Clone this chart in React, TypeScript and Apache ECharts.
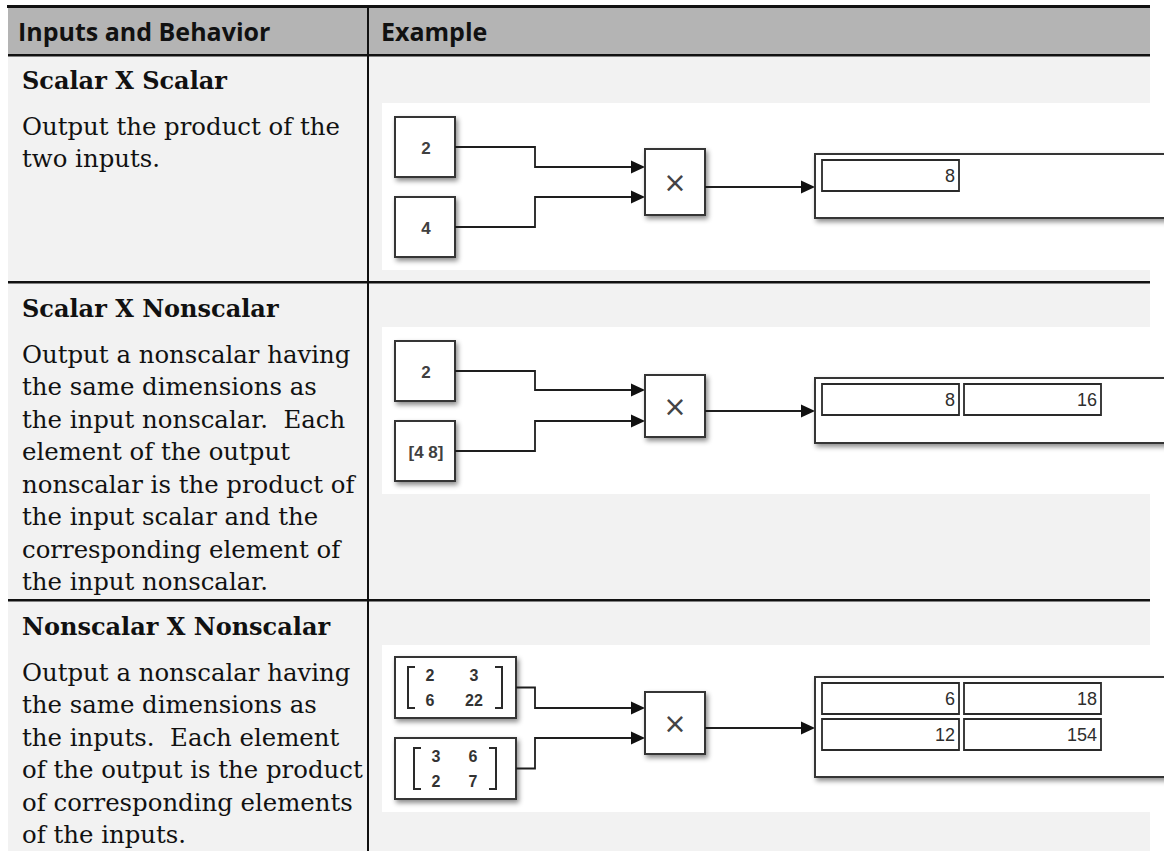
import React, { useEffect, useRef } from "react";
import * as echarts from "echarts";

const headerLabels = ["Inputs and Behavior", "Example"];
const rowTitles = ["Scalar X Scalar", "Scalar X Nonscalar", "Nonscalar X Nonscalar"];
const rowBodies = [
  ["Output the product of the", "two inputs."],
  [
    "Output a nonscalar having",
    "the same dimensions as",
    "the input nonscalar.  Each",
    "element of the output",
    "nonscalar is the product of",
    "the input scalar and the",
    "corresponding element of",
    "the input nonscalar.",
  ],
  [
    "Output a nonscalar having",
    "the same dimensions as",
    "the inputs.  Each element",
    "of the output is the product",
    "of corresponding elements",
    "of the inputs.",
  ],
];

// example values
const row1InputA = [2];
const row1InputB = [4];
const row1Output = [8];
const row2InputA = [2];
const row2InputB = [4, 8];
const row2Output = [8, 16];
const row3InputA = [
  [2, 3],
  [6, 22],
];
const row3InputB = [
  [3, 6],
  [2, 7],
];
const row3Output = [
  [6, 18],
  [12, 154],
];
const productSymbol = "×";

export default function App() {
  const ref = useRef<HTMLDivElement>(null);
  useEffect(() => {
    const chart = echarts.init(ref.current!, null, { renderer: "svg" });
    const els: any[] = [];
    const LINE = "#1e1e1e";
    const BORDER = "#353535";
    const shadow = { shadowBlur: 5, shadowOffsetX: 2, shadowOffsetY: 3, shadowColor: "rgba(0,0,0,0.45)" };

    const rect = (x: number, y: number, w: number, h: number, fill: string, extra: any = {}) =>
      els.push({ type: "rect", shape: { x, y, width: w, height: h }, style: { fill, ...extra }, silent: true });
    const poly = (pts: number[][], stroke = LINE, lw = 1.8) =>
      els.push({ type: "polyline", shape: { points: pts }, style: { stroke, lineWidth: lw, fill: null }, silent: true });
    const tri = (x: number, y: number) =>
      els.push({ type: "polygon", shape: { points: [[x - 14, y - 6.5], [x, y], [x - 14, y + 6.5]] }, style: { fill: "#111" }, silent: true });
    const text = (t: string, x: number, y: number, font: string, align = "left", fill = "#111") =>
      els.push({ type: "text", x, y, style: { text: t, font, fill, textAlign: align, textVerticalAlign: "middle" }, silent: true });

    // table background
    rect(8, 8, 1142, 47, "#b4b4b4");
    rect(8, 55, 1142, 796, "#f2f2f2");
    rect(7, 5, 1143, 3, "#111");
    rect(8, 54, 1142, 2.5, "#111");
    rect(8, 281, 1142, 2.5, "#111");
    rect(8, 599, 1142, 2.5, "#111");
    rect(367, 8, 2, 843, "#111");

    const HEAD = 'bold 25px "Open Sans"';
    text(headerLabels[0], 18, 31, HEAD);
    text(headerLabels[1], 381, 31, HEAD);

    const TITLE = 'bold 24px "DejaVu Serif"';
    const BODY = '24.4px "DejaVu Serif"';
    const rowTops = [55, 283, 601];
    rowTitles.forEach((t, i) => {
      const top = rowTops[i];
      text(t, 22, top + 25, TITLE);
      rowBodies[i].forEach((l, j) => text(l, 22, top + 71 + j * 32.5, BODY));
    });

    const LABEL = 'bold 17px "Liberation Sans"';
    const FIELD = '18px "Liberation Sans"';

    const block = (x: number, y: number, w: number, h: number) =>
      rect(x, y, w, h, "#ffffff", { stroke: BORDER, lineWidth: 2, ...shadow });

    const diagram = (
      top: number,
      blockW: number,
      aTop: number,
      bTop: number,
      drawA: (x: number, y: number) => void,
      drawB: (x: number, y: number) => void,
      prodTop: number,
      prodH: number,
      inA: number,
      inB: number,
      out: number,
      dispTop: number,
      dispH: number,
      fields: (string | number)[][]
    ) => {
      rect(382, top, 768, 167, "#ffffff");
      const bx = 395;
      const bh = blockW > 60 ? 61 : 60;
      block(bx, top + aTop, blockW, bh);
      block(bx, top + bTop, blockW, bh);
      drawA(bx, top + aTop);
      drawB(bx, top + bTop);
      const yA1 = top + aTop + bh / 2;
      const yB1 = top + bTop + bh / 2;
      poly([[bx + blockW, yA1], [535, yA1], [535, top + inA], [631, top + inA]]);
      poly([[bx + blockW, yB1], [535, yB1], [535, top + inB], [631, top + inB]]);
      tri(645, top + inA);
      tri(645, top + inB);
      block(645, top + prodTop, 60, prodH);
      text(productSymbol, 675, top + prodTop + prodH / 2, '28px "DejaVu Sans"', "center", "#444");
      poly([[705, top + out], [802, top + out]]);
      tri(815, top + out);
      block(815, top + dispTop, 420, dispH);
      fields.forEach((row, r) =>
        row.forEach((v, c) => {
          const fx = 822 + c * 142;
          const fy = top + dispTop + 6 + r * 36;
          rect(fx, fy, 137, 31, "#ffffff", { stroke: "#2a2a2a", lineWidth: 1.8 });
          text(String(v), fx + 133, fy + 16, FIELD, "right", "#2e2e2e");
        })
      );
    };

    const scalarLabel = (v: number[]) => (x: number, y: number) =>
      text(v.length === 1 ? String(v[0]) : "[" + v.join(" ") + "]", x + 31, y + 31, LABEL, "center", "#404040");

    const matrixLabel = (m: number[][], lx: number, rx: number, colX: number[]) => (x: number, y: number) => {
      const t = y + 10;
      const b = y + 51;
      poly([[x + lx + 7, t], [x + lx, t], [x + lx, b], [x + lx + 7, b]], "#2a2a2a", 2);
      poly([[x + rx - 7, t], [x + rx, t], [x + rx, b], [x + rx - 7, b]], "#2a2a2a", 2);
      m.forEach((row, r) =>
        row.forEach((v, c) => text(String(v), x + colX[c], y + 18 + r * 25, 'bold 16px "Liberation Sans"', "center", "#333"))
      );
    };

    diagram(103, 60, 14, 94, scalarLabel(row1InputA), scalarLabel(row1InputB), 46, 66, 64, 94, 84, 51, 64, [row1Output]);
    diagram(327, 60, 14, 94, scalarLabel(row2InputA), scalarLabel(row2InputB), 48, 62, 63, 94, 84, 51, 65, [row2Output]);
    diagram(
      645,
      121,
      12,
      93,
      matrixLabel(row3InputA, 13, 107, [35, 79]),
      matrixLabel(row3InputB, 19, 101, [41, 78]),
      47,
      62,
      63,
      93,
      83,
      32,
      100,
      row3Output
    );

    chart.setOption({ animation: false, graphic: { elements: els } });
    return () => chart.dispose();
  }, []);
  return <div ref={ref} style={{ position: "absolute", left: 0, top: 0, width: 1164, height: 851 }} />;
}
